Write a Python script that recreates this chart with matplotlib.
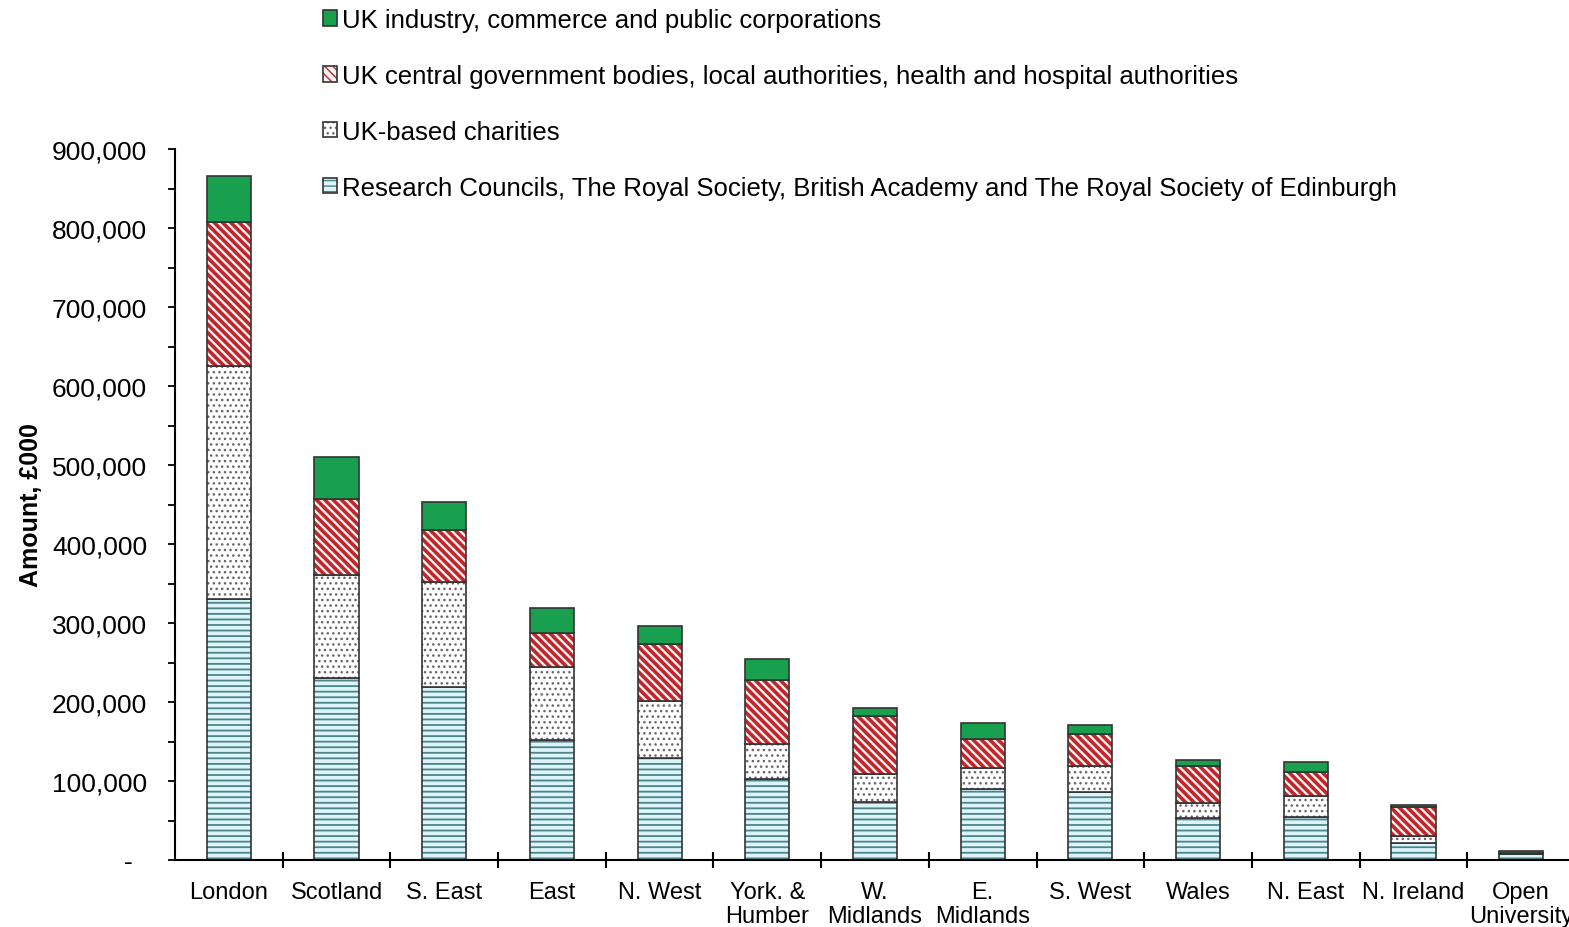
import numpy as np
import matplotlib.pyplot as plt
import matplotlib.patches as mpatches
from matplotlib.legend_handler import HandlerTuple
from matplotlib.ticker import FuncFormatter, MultipleLocator, FixedLocator

plt.rcParams['font.family'] = ['Liberation Sans', 'DejaVu Sans']

categories = ['London', 'Scotland', 'S. East', 'East', 'N. West', 'York. &\nHumber',
              'W.\nMidlands', 'E.\nMidlands', 'S. West', 'Wales', 'N. East',
              'N. Ireland', 'Open\nUniversity']

# amounts in £000
research_councils = [330000, 230000, 219000, 152000, 129000, 103000, 73000, 90000,
                     86000, 53000, 54000, 22000, 7000]
charities = [295000, 131000, 133000, 92000, 72000, 44000, 36000, 26000,
             33000, 19000, 27000, 8000, 1000]
government = [183000, 96000, 66000, 43000, 72000, 81000, 73000, 37000,
              40000, 47000, 30000, 37000, 1000]
industry = [58000, 53000, 35000, 32000, 23000, 26000, 10000, 20000,
            12000, 8000, 13000, 3000, 2000]

series_labels = ['Research Councils, The Royal Society, British Academy and The Royal Society of Edinburgh',
                 'UK-based charities',
                 'UK central government bodies, local authorities, health and hospital authorities',
                 'UK industry, commerce and public corporations']

# fill, hatch colour, hatch, hatch width
styles = [('#ddf5f9', '#4b858b', '---', 1.3),
          ('#ffffff', '#6e6068', '...', 1.0),
          ('#fff3f1', '#c0272d', '\\\\\\\\', 2.6),
          ('#19a04f', '#19a04f', None, 1.0)]

edge = '#333333'

fig = plt.figure(figsize=(15.69, 9.28), dpi=100)
ax = fig.add_axes([175/1569, 67/928, 1400/1569, 711/928])

x = np.arange(len(categories))
bottom = np.zeros(len(categories))
handles = []
for vals, (fc, hc, hatch, hlw) in zip([research_councils, charities, government, industry], styles):
    vals = np.array(vals, dtype=float)
    bars = ax.bar(x, vals, 0.41, bottom=bottom, color=fc, edgecolor=hc,
                  hatch=hatch, linewidth=0)
    for p in bars:
        p.set_hatch_linewidth(hlw)
    ax.bar(x, vals, 0.41, bottom=bottom, fill=False, edgecolor=edge, linewidth=1.2)
    bottom += vals
    h1 = mpatches.Patch(facecolor=fc, edgecolor=hc, hatch=hatch, linewidth=0)
    h1.set_hatch_linewidth(min(hlw, 1.5))
    h2 = mpatches.Patch(fill=False, edgecolor=edge, linewidth=1.2)
    handles.append((h1, h2))

ax.set_xlim(-0.5, len(categories) - 0.5)
ax.set_ylim(0, 900000)

ax.spines['top'].set_visible(False)
ax.spines['right'].set_visible(False)
ax.spines['left'].set_linewidth(1.5)
ax.spines['bottom'].set_linewidth(1.5)

ax.yaxis.set_major_locator(MultipleLocator(100000))
ax.yaxis.set_minor_locator(MultipleLocator(50000))
ax.yaxis.set_major_formatter(FuncFormatter(lambda v, p: '-  ' if v == 0 else f'{v:,.0f}'))
ax.tick_params(axis='y', which='both', direction='out', length=5, width=1.3,
               labelsize=19, pad=15)

ax.set_xticks(x)
ax.set_xticklabels(categories, fontsize=17, linespacing=1.1)
ax.xaxis.set_minor_locator(FixedLocator(np.arange(0.5, len(categories) - 0.5, 1)))
ax.tick_params(axis='x', which='major', length=0, pad=15)
ax.tick_params(axis='x', which='minor', direction='inout', length=12, width=1.5)

ax.set_ylabel('Amount, £000', fontsize=18, fontweight='bold')
ax.yaxis.set_label_coords(-0.094, 0.5)

fig.legend(handles[::-1], series_labels[::-1], loc='upper left',
           bbox_to_anchor=(323/1569, 1 - 9/928), frameon=False, fontsize=18.5,
           handler_map={tuple: HandlerTuple(ndivide=1)},
           handlelength=0.55, handleheight=0.55, handletextpad=0.2,
           labelspacing=1.24, borderpad=0, borderaxespad=0)

fig.savefig('out.png', dpi=100)
